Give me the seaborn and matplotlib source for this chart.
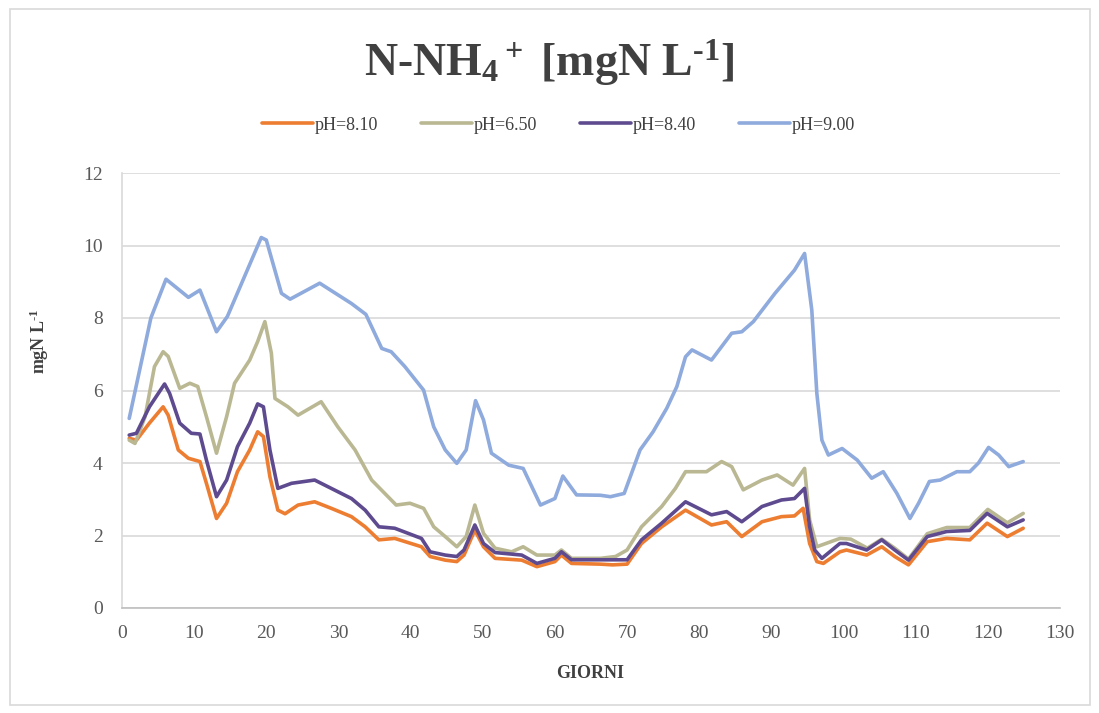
import matplotlib
matplotlib.use("Agg")
import matplotlib.pyplot as plt
import seaborn as sns
import pandas as pd
from matplotlib.patches import Rectangle

# values (days, mgN/L)
days_81 = [1, 2.0, 3.8, 5.7, 6.4, 7.8, 9.2, 10.8, 11.7, 13.1, 14.5, 16.0, 17.7, 18.8, 19.6,
           20.5, 21.6, 22.6, 24.4, 26.7, 29.0, 31.8, 33.7, 35.6, 37.8, 41.5, 42.7, 44.8, 46.4,
           47.4, 48.9, 50.1, 51.7, 55.4, 57.5, 60.0, 60.9, 62.3, 66.3, 68.0, 70.0, 72.0, 74.8,
           78.1, 81.7, 83.8, 85.9, 88.7, 91.4, 93.2, 94.4, 95.3, 96.3, 97.2, 99.5, 100.4, 103.2,
           105.3, 107.1, 109.0, 111.6, 114.3, 117.5, 119.9, 122.7, 124.9]
ph_81 = [4.68, 4.63, 5.1, 5.55, 5.32, 4.36, 4.13, 4.04, 3.44, 2.47, 2.89, 3.76, 4.36, 4.86, 4.73,
         3.62, 2.7, 2.6, 2.84, 2.93, 2.75, 2.52, 2.24, 1.88, 1.92, 1.69, 1.42, 1.32, 1.28,
         1.46, 2.15, 1.69, 1.37, 1.32, 1.14, 1.28, 1.46, 1.23, 1.21, 1.19, 1.21, 1.78, 2.24,
         2.7, 2.29, 2.38, 1.97, 2.38, 2.52, 2.54, 2.75, 1.78, 1.28, 1.23, 1.55, 1.6, 1.46,
         1.69, 1.42, 1.19, 1.83, 1.92, 1.88, 2.34, 1.97, 2.2]

days_65 = [1, 1.8, 3.2, 4.5, 5.7, 6.4, 8.0, 9.4, 10.5, 11.7, 13.1, 14.5, 15.6, 17.7, 18.8, 19.8,
           20.7, 21.2, 23.0, 24.4, 27.6, 29.9, 32.3, 34.6, 38.0, 39.9, 41.8, 43.2, 44.8, 46.4,
           47.7, 48.9, 50.1, 51.7, 54.0, 55.6, 57.5, 60.0, 60.9, 62.3, 66.3, 68.4, 70.0, 72.0,
           74.8, 76.7, 78.1, 81.0, 83.1, 84.5, 86.1, 88.7, 90.8, 93.0, 94.6, 95.3, 96.3, 99.5,
           101.0, 103.3, 105.3, 107.1, 109.0, 111.6, 114.3, 117.5, 120.0, 122.7, 124.9]
ph_65 = [4.63, 4.54, 5.28, 6.66, 7.07, 6.94, 6.06, 6.2, 6.11, 5.28, 4.27, 5.28, 6.2, 6.84, 7.35, 7.9,
         7.03, 5.78, 5.55, 5.32, 5.69, 5.0, 4.36, 3.53, 2.84, 2.89, 2.75, 2.24, 1.97, 1.69,
         1.97, 2.84, 2.06, 1.65, 1.55, 1.69, 1.46, 1.46, 1.6, 1.37, 1.37, 1.42, 1.6, 2.24,
         2.8, 3.3, 3.76, 3.76, 4.04, 3.9, 3.26, 3.53, 3.67, 3.39, 3.85, 2.43, 1.69, 1.92,
         1.9, 1.65, 1.9, 1.65, 1.35, 2.05, 2.22, 2.22, 2.72, 2.35, 2.61]

days_84 = [1, 2.0, 3.8, 5.9, 6.6, 8.0, 9.6, 10.8, 11.7, 13.1, 14.5, 16.0, 17.7, 18.8, 19.6, 20.5,
           21.6, 23.5, 26.7, 29.0, 31.8, 33.7, 35.6, 37.8, 41.5, 42.7, 44.8, 46.4, 47.4, 48.9,
           50.1, 51.7, 55.4, 57.5, 60.0, 60.9, 62.3, 66.3, 68.0, 70.0, 72.0, 74.8, 78.1, 79.9,
           81.7, 83.8, 85.9, 88.7, 91.4, 93.2, 94.6, 95.3, 96.0, 97.0, 99.5, 100.4, 103.2, 105.3,
           107.1, 109.0, 111.6, 114.3, 117.5, 119.9, 122.7, 124.9]
ph_84 = [4.77, 4.82, 5.55, 6.18, 5.92, 5.1, 4.82, 4.8, 4.08, 3.07, 3.53, 4.45, 5.1, 5.63, 5.55, 4.36,
         3.3, 3.44, 3.53, 3.3, 3.02, 2.7, 2.24, 2.2, 1.92, 1.55, 1.46, 1.42, 1.6, 2.29,
         1.78, 1.53, 1.46, 1.23, 1.37, 1.55, 1.33, 1.33, 1.33, 1.33, 1.88, 2.34, 2.93, 2.75,
         2.57, 2.66, 2.38, 2.8, 2.98, 3.02, 3.3, 2.24, 1.6, 1.37, 1.78, 1.78, 1.6, 1.88,
         1.6, 1.32, 1.97, 2.11, 2.14, 2.61, 2.24, 2.43]

days_90 = [1, 4.0, 6.1, 9.2, 10.8, 13.1, 14.6, 19.3, 20.0, 22.1, 23.3, 27.4, 31.8, 33.8, 36.0,
           37.3, 39.2, 41.8, 43.2, 44.8, 46.4, 47.7, 49.0, 50.1, 51.2, 53.6, 55.6, 58.0, 60.0,
           61.1, 63.0, 66.3, 67.7, 69.6, 71.8, 73.6, 75.5, 76.9, 78.1, 79.0, 81.7, 84.5, 85.9,
           87.5, 90.5, 93.2, 94.6, 95.6, 96.3, 97.0, 97.9, 99.8, 101.9, 103.9, 105.5, 107.4,
           109.2, 110.4, 111.9, 113.4, 115.7, 117.5, 118.7, 120.1, 121.5, 122.9, 124.9]
ph_90 = [5.23, 8.0, 9.07, 8.57, 8.77, 7.62, 8.04, 10.22, 10.15, 8.68, 8.52, 8.96, 8.4, 8.1, 7.16,
         7.07, 6.66, 6.01, 5.0, 4.36, 3.99, 4.36, 5.72, 5.19, 4.27, 3.94, 3.85, 2.84, 3.02,
         3.64, 3.12, 3.11, 3.07, 3.16, 4.36, 4.86, 5.51, 6.11, 6.93, 7.12, 6.84, 7.58, 7.62,
         7.9, 8.68, 9.32, 9.78, 8.22, 5.92, 4.63, 4.22, 4.4, 4.08, 3.58, 3.76, 3.16,
         2.47, 2.89, 3.49, 3.53, 3.76, 3.76, 4.0, 4.43, 4.22, 3.9, 4.04]

series_names = ["pH=8.10", "pH=6.50", "pH=8.40", "pH=9.00"]
series_colors = ["#ED7D31", "#BAB893", "#5E4B8F", "#8FAADC"]
x_ticks = list(range(0, 131, 10))
y_ticks = list(range(0, 13, 2))

frames = []
for name, d, v in zip(series_names, [days_81, days_65, days_84, days_90], [ph_81, ph_65, ph_84, ph_90]):
    frames.append(pd.DataFrame({"giorno": d, "valore": v, "serie": name}))
df = pd.concat(frames, ignore_index=True)

sns.set_theme(style="white")
plt.rcParams["font.family"] = ["Liberation Serif", "DejaVu Serif"]
plt.rcParams["mathtext.fontset"] = "custom"
plt.rcParams["mathtext.rm"] = "Liberation Serif:bold"
plt.rcParams["mathtext.it"] = "Liberation Serif:bold"
plt.rcParams["mathtext.bf"] = "Liberation Serif:bold"
plt.rcParams["mathtext.default"] = "rm"

fig = plt.figure(figsize=(10.99, 7.13), dpi=100)
ax = fig.add_axes([122 / 1099, 1 - 608 / 713, (1060 - 122) / 1099, (608 - 173) / 713])

sns.lineplot(data=df, x="giorno", y="valore", hue="serie", hue_order=series_names,
             palette=series_colors, sort=False, estimator=None, linewidth=2.6, ax=ax)
for line in ax.get_lines():
    line.set_solid_joinstyle("round")
    line.set_solid_capstyle("round")

ax.set_xlim(0, 130)
ax.set_ylim(0, 12)
ax.set_xticks(x_ticks)
ax.set_yticks(y_ticks)
ax.yaxis.grid(True, color="#D9D9D9", linewidth=1.2)
ax.xaxis.grid(False)
for side in ["top", "right"]:
    ax.spines[side].set_visible(False)
ax.spines["left"].set_color("#D9D9D9")
ax.spines["bottom"].set_color("#BFBFBF")
ax.spines["left"].set_linewidth(1.2)
ax.spines["bottom"].set_linewidth(1.2)
ax.tick_params(axis="both", length=0, labelsize=14, labelcolor="#595959")
ax.tick_params(axis="y", pad=14)
ax.tick_params(axis="x", pad=12)

ax.set_xlabel("GIORNI", fontsize=13, fontweight="bold", color="#404040")
ax.set_ylabel(r"mgN L$^{\text{-}1}$", fontsize=13, fontweight="bold", color="#404040")
ax.xaxis.set_label_coords(0.499, -0.131)
ax.yaxis.set_label_coords(-0.0756, 0.614)

fig.text(0.5, 1 - 63 / 713, r"N-NH$_4$$^+$ [mgN L$^{\text{-}1}$]", ha="center", va="center",
         fontsize=33, fontweight="bold", color="#404040")

handles, labels = ax.get_legend_handles_labels()
ax.get_legend().remove()
fig.legend(handles, labels, loc="center", bbox_to_anchor=(0.508, 1 - 125 / 713), ncol=4,
           frameon=False, fontsize=13, handlelength=2.8, handletextpad=0.1, columnspacing=2.4,
           labelcolor="#404040")

fig.patches.append(Rectangle((10 / 1099, 8 / 713), 1080 / 1099, 696 / 713, transform=fig.transFigure,
                             fill=False, edgecolor="#D9D9D9", linewidth=1.2))

fig.savefig("out.png", dpi=100)
